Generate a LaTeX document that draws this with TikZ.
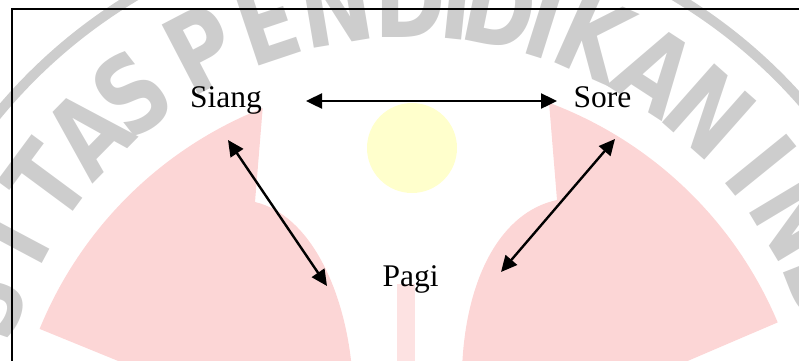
\documentclass[tikz,border=0pt]{standalone}
\usepackage{fontspec}
\setmainfont{Liberation Serif}
\newfontfamily\wmfont{DejaVu Sans}
\usetikzlibrary{arrows.meta}
\definecolor{pinkbg}{RGB}{252,214,214}
\definecolor{yellowbg}{RGB}{255,255,204}
\definecolor{wmgrey}{RGB}{205,205,205}
\tikzset{
  lbl/.style={font=\fontsize{31.5}{36}\selectfont, inner sep=0pt, anchor=base},
  dbl/.style={line width=2.4pt, {Triangle[length=16pt,width=15pt]}-{Triangle[length=16pt,width=15pt]}},
  wm/.style={text=wmgrey, inner sep=0pt, font=\wmfont\bfseries\fontsize{108}{108}\selectfont},
  frameline/.style={line width=2.6pt, black},
}
\begin{document}
\begin{tikzpicture}[x=1pt, y=-1pt]
\useasboundingbox (0,0) rectangle (799,360);
\clip (0,0) rectangle (799,360);
% background watermark
\fill[pinkbg] (140.3,370) -- (39.6,328.9) arc[start angle=-157.8, end angle=-111.6, radius=400]
  -- (255,202) .. controls (310,215) and (345,290) .. (352,370) -- cycle;
\fill[pinkbg] (666.6,370) -- (777.7,322.4) arc[start angle=-22.8, end angle=-69.5, radius=400]
  -- (557,200) .. controls (500,212) and (465,280) .. (462,370) -- cycle;
\fill[pinkbg!70!white] (397,284) rectangle (415,370);
\fill[yellowbg] (412,148) circle[radius=45];
\draw[wmgrey, line width=10] (405,450) circle[radius=528];
\foreach \ch/\ang [count=\i] in {S/161, I/152, T/143.5, A/135.5, S/128, P/117.5, E/108.5, N/99.5, D/90, I/84, D/78.5, I/72.5, K/66, A/57, N/48.5, I/39, N/31, D/21.5, O/11}
  \node[wm, rotate=\ang-90] (wm\i) at ({410+452*cos(\ang)}, {450-452*sin(\ang)}) {\scalebox{0.8}[1]{\ch}};
% frame
\draw[frameline] (12,370) -- (12,9) -- (810,9);
% labels
\node[lbl] (siang) at (226,107) {Siang};
\node[lbl] (sore) at (602.5,107) {Sore};
\node[lbl] (pagi) at (410.5,286) {Pagi};
% arrow end points
\coordinate (hL) at (306,101);
\coordinate (hR) at (557,101);
\coordinate (lT) at (228,140);
\coordinate (lB) at (327,286);
\coordinate (rT) at (615,139);
\coordinate (rB) at (501,272);
\draw[dbl] (hL) -- (hR);
\draw[dbl] (lT) -- (lB);
\draw[dbl] (rT) -- (rB);
\end{tikzpicture}
\end{document}
